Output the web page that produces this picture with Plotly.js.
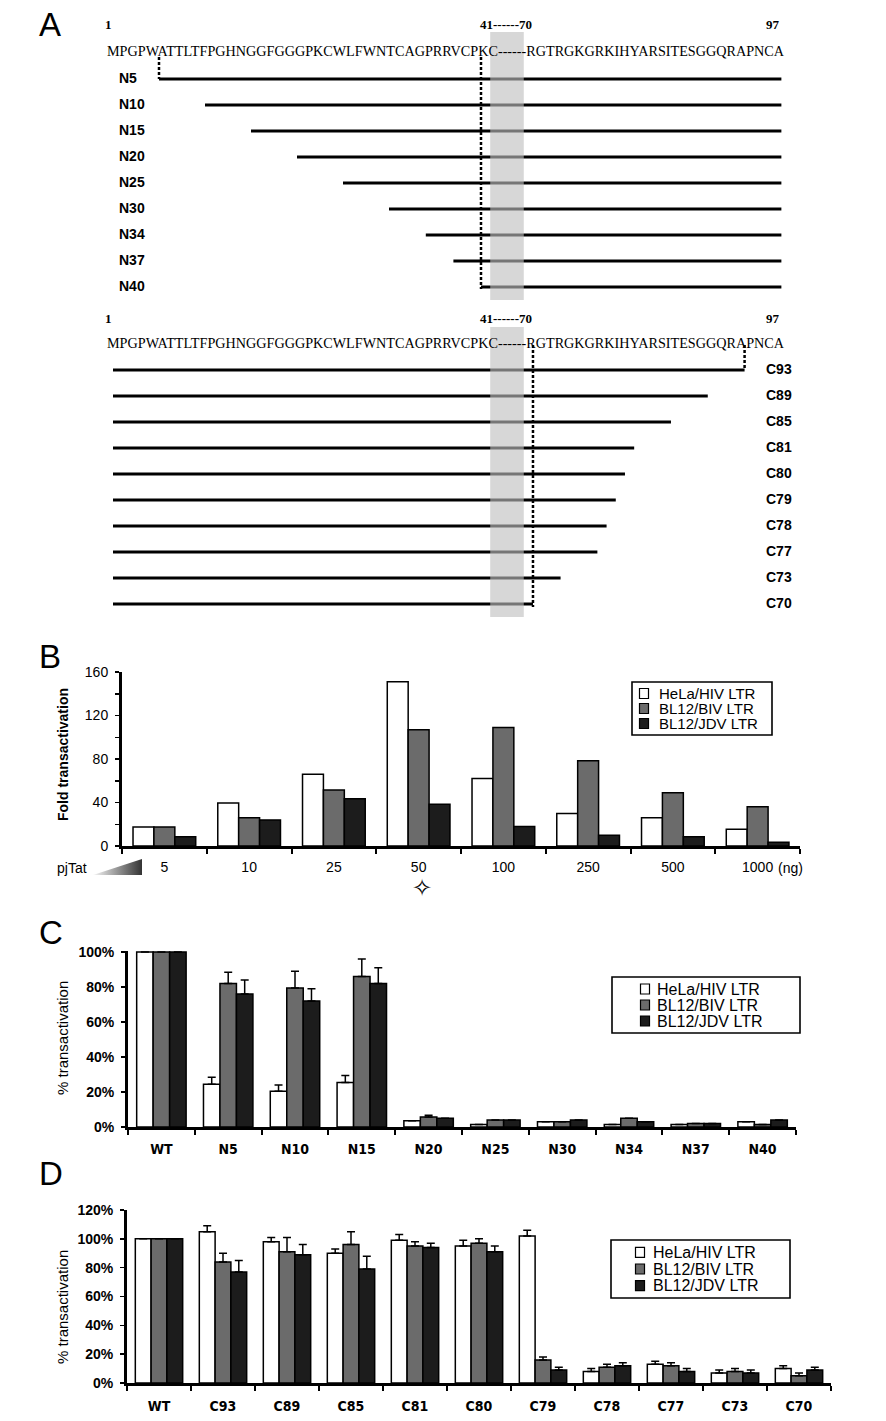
<!DOCTYPE html>
<html><head><meta charset="utf-8">
<script src="https://cdn.plot.ly/plotly-3.0.1.min.js"></script>
<style>html,body{margin:0;padding:0;background:#fff}#chart{width:886px;height:1421px}</style>
</head><body><div id="chart"></div>
<script>
// ---------------- Panel A data ----------------
const sequenceLeft = "MPGPWATTLTFPGHNGGFGGGPKCWLFWNTCAGPRRVCPKC";
const sequenceGap = "------";
const sequenceRight = "RGTRGKGRKIHYARSITESGGQRAPNCA";
const proteinLength = 97;
const gapStart = 41, gapEnd = 70;
const nConstructs = ["N5","N10","N15","N20","N25","N30","N34","N37","N40"];
const nDeleted = [5,10,15,20,25,30,34,37,40];
const cConstructs = ["C93","C89","C85","C81","C80","C79","C78","C77","C73","C70"];
const cLastResidue = [93,89,85,81,80,79,78,77,73,70];

// ---------------- Panel B data ----------------
const seriesNames = ["HeLa/HIV LTR","BL12/BIV LTR","BL12/JDV LTR"];
const doseLabels = ["5","10","25","50","100","250","500","1000"];
const foldHIV = [17.5,39.5,66,151,62,30,26,15.5];
const foldBIV = [17.5,26,51.5,107,109,78.5,49,36];
const foldJDV = [8.5,24,43.5,38.5,18,10,8.5,3.5];

// ---------------- Panel C data ----------------
const nLabels = ["WT","N5","N10","N15","N20","N25","N30","N34","N37","N40"];
const nHIV    = [100,24.5,20.5,25.5,3.6,1.5,3,1.5,1.5,3];
const nHIVerr = [0,4,3.5,4,0,0,0,0,0,0];
const nBIV    = [100,82,79.5,86,5.7,4,3,5,2,1.5];
const nBIVerr = [0,6.5,9.5,10,1,0,0,0,0,0];
const nJDV    = [100,76,72,82,5,4,4,3,2,4];
const nJDVerr = [0,8,7,9,0,0,0,0,0,0];

// ---------------- Panel D data ----------------
const cLabels = ["WT","C93","C89","C85","C81","C80","C79","C78","C77","C73","C70"];
const cHIV    = [100,105,98,90,99,95,102,8,13,7,10];
const cHIVerr = [0,4,3,3,4,4,4,2,2,2,2];
const cBIV    = [100,84,91,96,95,97,16,11,12,8,5];
const cBIVerr = [0,6,10,9,3,3,2,2,2,2,2];
const cJDV    = [100,77,89,79,94,91,9,12,8,7,9];
const cJDVerr = [0,8,7,9,3,4,2,2,2,2,2];

// ---------------- styling / layout helpers ----------------
const W = 886, H = 1421;
const px = x => x / W, py = y => 1 - y / H;
const fillColors = ["#ffffff", "#6b6b6b", "#1c1c1c"];
const SANS = "Liberation Sans, Arial, sans-serif";
const NARROW = "Liberation Sans Narrow, Arial Narrow, DejaVu Sans Condensed, sans-serif";
const SERIF = "Liberation Serif, Times New Roman, serif";

// Panel A axis: residue boundaries, with the elided 42-69 stretch drawn as a short gap
const GAP_UNITS = 3.65, A_X0 = 113, A_SCALE = 9.2;
function pos(r) { return r <= gapStart ? r : gapStart + GAP_UNITS + (r - (gapEnd - 1)); }
const N_ROW0 = 79, C_ROW0 = 370, ROW_STEP = 26;

const traces = [];
const annotations = [];
const shapes = [];
const note = (text, x, y, font, extra) => annotations.push(Object.assign({text: text, x: px(x), y: py(y),
  xref: 'paper', yref: 'paper', xanchor: 'center', yanchor: 'middle', showarrow: false, font: font}, extra || {}));

// N-terminal deletion constructs
nConstructs.forEach((name, i) => {
  const y = N_ROW0 + i * ROW_STEP;
  traces.push({x: [pos(nDeleted[i]), pos(proteinLength)], y: [y, y], xaxis: 'x', yaxis: 'y',
    mode: 'lines', line: {color: '#000', width: 3.2}, showlegend: false, hoverinfo: 'skip'});
  note('<b>' + name + '</b>', 117, y - 1, {family: SANS, size: 14}, {xanchor: 'left'});
});
// C-terminal deletion constructs
cConstructs.forEach((name, i) => {
  const y = C_ROW0 + i * ROW_STEP;
  traces.push({x: [pos(0), pos(cLastResidue[i])], y: [y, y], xaxis: 'x', yaxis: 'y',
    mode: 'lines', line: {color: '#000', width: 3.2}, showlegend: false, hoverinfo: 'skip'});
  note('<b>' + name + '</b>', 779, y - 1, {family: SANS, size: 14});
});
// dotted guides marking the deletion boundaries
const guide = (x, y0, y1) => traces.push({x: [x, x], y: [y0, y1], xaxis: 'x', yaxis: 'y', mode: 'lines',
  line: {color: '#000', width: 2.5, dash: '3px,2px'}, showlegend: false, hoverinfo: 'skip'});
guide(pos(nDeleted[0]), 57, N_ROW0);
guide(pos(nDeleted[nDeleted.length - 1]), 57, N_ROW0 + (nDeleted.length - 1) * ROW_STEP + 2);
guide(pos(cLastResidue[0]), 345, C_ROW0);
guide(pos(cLastResidue[cLastResidue.length - 1]), 345, C_ROW0 + (cLastResidue.length - 1) * ROW_STEP + 3);
// grey band over the elided region
[[32, 300], [327, 617]].forEach(([y0, y1]) => shapes.push({type: 'rect', xref: 'x', yref: 'y',
  x0: pos(gapStart), x1: pos(gapEnd - 1), y0: y0, y1: y1, fillcolor: 'rgba(190,190,190,0.62)',
  line: {width: 0}, layer: 'above'}));

// sequence lines + residue numbers
const fullSeq = sequenceLeft + sequenceGap + sequenceRight;
function fitSize(text, family, target) {
  const c = document.createElement('canvas').getContext('2d');
  c.font = '100px ' + family;
  return 100 * target / c.measureText(text).width;
}
const seqSize = Math.min(16, fitSize(fullSeq, SERIF, 678));
[[51, 25], [343, 318]].forEach(([ys, yn]) => {
  note(fullSeq, 105, ys, {family: SERIF, size: seqSize}, {xanchor: 'left'});
  note('<b>1</b>', 108, yn, {family: SERIF, size: 13});
  note('<b>' + gapStart + '------' + gapEnd + '</b>', 506, yn, {family: SERIF, size: 13});
  note('<b>' + proteinLength + '</b>', 773, yn, {family: SERIF, size: 13});
});

// ---------------- bar panels ----------------
function addBars(cats, vals, errs, xa, ya) {
  vals.forEach((v, k) => {
    const t = {type: 'bar', x: cats, y: v, name: seriesNames[k], xaxis: xa, yaxis: ya, showlegend: false,
      marker: {color: fillColors[k], line: {color: '#000', width: 1.5}}, hoverinfo: 'skip'};
    if (errs) t.error_y = {type: 'data', symmetric: false, array: errs[k], arrayminus: errs[k].map(() => 0),
      color: '#000', thickness: 1.5, width: 4};
    traces.push(t);
  });
}
addBars(doseLabels, [foldHIV, foldBIV, foldJDV], null, 'x2', 'y2');
addBars(nLabels, [nHIV, nBIV, nJDV], [nHIVerr, nBIVerr, nJDVerr], 'x3', 'y3');
addBars(cLabels, [cHIV, cBIV, cJDV], [cHIVerr, cBIVerr, cJDVerr], 'x4', 'y4');

// boxed keys for the three series
function addKey(left, top, right, bottom, sqX, textX, fontSize) {
  shapes.push({type: 'rect', xref: 'paper', yref: 'paper', x0: px(left), x1: px(right), y0: py(top), y1: py(bottom),
    fillcolor: '#fff', line: {color: '#000', width: 1.6}, layer: 'above'});
  const step = (bottom - top - 8) / 3;
  seriesNames.forEach((name, k) => {
    const cy = top + 4 + step * (k + 0.5);
    shapes.push({type: 'rect', xref: 'paper', yref: 'paper', x0: px(sqX - 4.5), x1: px(sqX + 4.5),
      y0: py(cy - 5), y1: py(cy + 5), fillcolor: fillColors[k], line: {color: '#000', width: 1.2}, layer: 'above'});
    note(name, textX, cy, {family: SANS, size: fontSize}, {xanchor: 'left'});
  });
}
addKey(632, 682, 772, 735, 644, 657, 15);
addKey(612, 977, 800, 1033, 645, 655, 16);
addKey(611, 1240, 790, 1298, 640, 651, 16);

const catAxis = (x0, x1, anchor, standoff, font) => ({domain: [px(x0), px(x1)], anchor: anchor, type: 'category',
  showline: true, linecolor: '#000', linewidth: 3, ticks: 'outside', tickson: 'boundaries', ticklen: 5,
  tickwidth: 2, tickcolor: '#000', showgrid: false, zeroline: false, tickfont: font,
  ticklabelstandoff: standoff, fixedrange: true});
const valAxis = (y0, y1, anchor, range, dtick, suffix, font) => ({domain: [py(y0), py(y1)], anchor: anchor,
  range: range, tickmode: 'linear', tick0: 0, dtick: dtick, ticksuffix: suffix, showline: true, linecolor: '#000',
  linewidth: 3, ticks: 'outside', ticklen: 4, tickwidth: 1.5, tickcolor: '#000', showgrid: false,
  zeroline: false, tickfont: font, ticklabelstandoff: 4, fixedrange: true});

const yB = valAxis(846, 672, 'x2', [0, 160], 40, '', {family: SANS, size: 14});
yB.minor = {dtick: 20, ticks: 'outside', ticklen: 4, tickwidth: 1.5, tickcolor: '#000'};

// axis titles and decorations
note('Fold transactivation', 63, 755, {family: SANS, size: 14, weight: 'bold'}, {textangle: -90});
note('% transactivation', 62, 1038, {family: SANS, size: 15}, {textangle: -90});
note('% transactivation', 62, 1307, {family: SANS, size: 15}, {textangle: -90});
note('pjTat', 72, 868, {family: SANS, size: 14});
note('(ng)', 790, 868, {family: SANS, size: 14});
note('\u2727', 422, 888, {family: 'DejaVu Sans', size: 24});
note('A', 50, 25, {family: SANS, size: 33});
note('B', 50, 656, {family: SANS, size: 33});
note('C', 51, 933, {family: SANS, size: 33});
note('D', 51, 1173, {family: SANS, size: 33});

const triSvg = "<svg xmlns='http://www.w3.org/2000/svg' width='49' height='16'><defs><linearGradient id='g'>" +
  "<stop offset='0' stop-color='#f6f6f6'/><stop offset='1' stop-color='#333333'/></linearGradient></defs>" +
  "<polygon points='0,16 49,0 49,16' fill='url(#g)'/></svg>";

const layout = {
  width: W, height: H, margin: {l: 0, r: 0, t: 0, b: 0},
  paper_bgcolor: '#fff', plot_bgcolor: 'rgba(0,0,0,0)',
  barmode: 'group', bargap: 0.26, bargroupgap: 0, showlegend: false,
  font: {family: SANS, color: '#000', size: 14},
  xaxis: {domain: [0, 1], range: [-A_X0 / A_SCALE, (W - A_X0) / A_SCALE], visible: false, fixedrange: true, anchor: 'y'},
  yaxis: {domain: [py(625), 1], range: [625, 0], visible: false, fixedrange: true, anchor: 'x'},
  xaxis2: catAxis(122, 800, 'y2', 6, {family: SANS, size: 14}),
  yaxis2: yB,
  xaxis3: catAxis(128, 796, 'y3', 7, {family: NARROW, size: 14, weight: 'bold'}),
  yaxis3: valAxis(1127, 951, 'x3', [0, 100.6], 20, '%', {family: SANS, size: 14, weight: 'bold'}),
  xaxis4: catAxis(127, 831, 'y4', 8, {family: NARROW, size: 14, weight: 'bold'}),
  yaxis4: valAxis(1383, 1210, 'x4', [0, 120], 20, '%', {family: SANS, size: 14, weight: 'bold'}),
  annotations: annotations,
  shapes: shapes,
  images: [{source: 'data:image/svg+xml;utf8,' + encodeURIComponent(triSvg), xref: 'paper', yref: 'paper',
    x: px(93), y: py(859), sizex: px(49), sizey: 16 / H, sizing: 'stretch', xanchor: 'left', yanchor: 'top', layer: 'above'}]
};

Plotly.newPlot('chart', traces, layout, {staticPlot: true, displayModeBar: false});
</script>
</body></html>
